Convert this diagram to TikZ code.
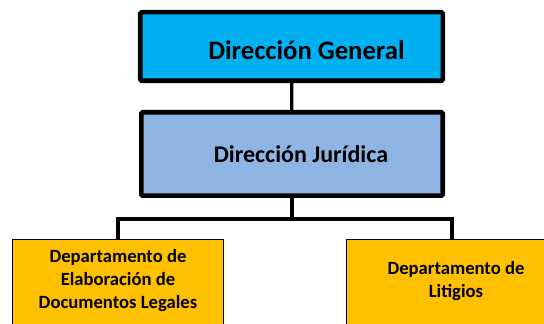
\documentclass[tikz,border=0pt]{standalone}
\usepackage{fontspec}
\setmainfont{Carlito}
\usetikzlibrary{positioning}
\definecolor{cielo}{HTML}{00B0F0}
\definecolor{azulclaro}{HTML}{8DB4E2}
\definecolor{oro}{HTML}{FFC000}

\begin{document}
\begin{tikzpicture}[x=0.75pt, y=-0.75pt,
    jefe/.style={draw, line width=3.4pt, rounded corners=1pt, inner sep=0pt},
    depto/.style={draw, line width=1.1pt, fill=oro, inner sep=0pt,
      minimum width=158.6pt, minimum height=90pt},
    rotulo/.style={font=\bfseries\fontsize{14}{17.3}\selectfont, align=center},
    linea/.style={line width=2.4pt}]
  \useasboundingbox (0,0) rectangle (544,324);
  \clip (0,0) rectangle (544,324);
  \coordinate (bus) at (0,219);
  \node[jefe, fill=cielo, minimum width=226.9pt, minimum height=51.4pt,
    label={[rotulo, font=\bfseries\fontsize{20}{24}\selectfont, xshift=11.25pt, yshift=-3pt]center:Dirección General}]
    (dg) at (291.5,46.5) {};
  \node[jefe, fill=azulclaro, minimum width=226.1pt, minimum height=62.6pt,
    label={[rotulo, font=\bfseries\fontsize{18}{22}\selectfont, xshift=6.75pt, yshift=-0.5pt]center:Dirección Jurídica}]
    (dj) at (292,154) {};
  \node[depto, label={[rotulo, yshift=14pt]center:Departamento de\\Elaboración de\\Documentos Legales}]
    (izq) at (118,299.5) {};
  \node[depto, label={[rotulo, xshift=3pt, yshift=13.5pt]center:Departamento de\\Litigios}]
    (der) at (452,299.5) {};
  \draw[linea] (dg) -- (dj);
  \draw[linea] (dj.south) -- (dj.south |- bus) -| (izq.north);
  \draw[linea] (dj.south |- bus) -| (der.north);
\end{tikzpicture}
\end{document}
